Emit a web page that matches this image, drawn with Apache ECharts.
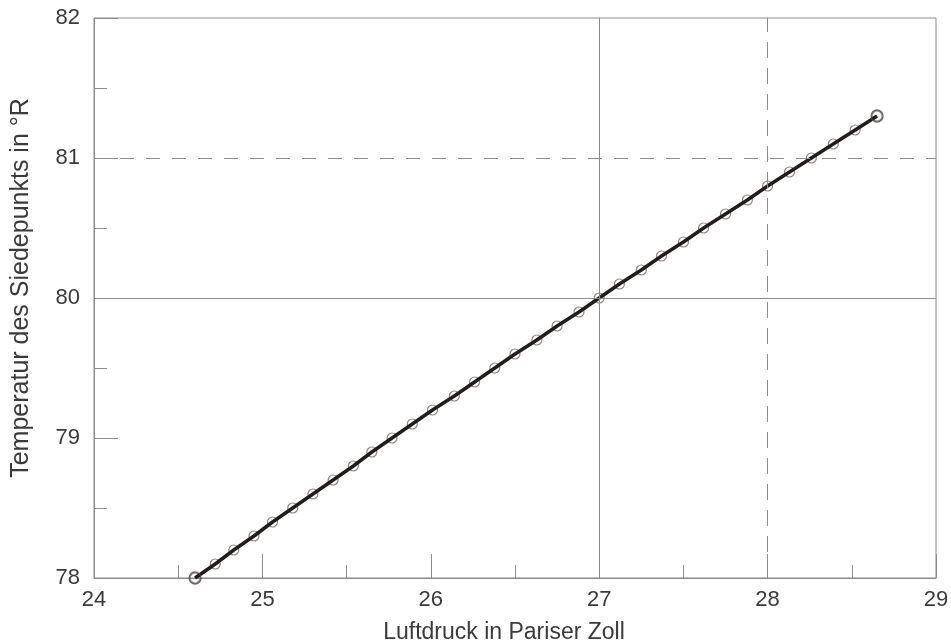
<!DOCTYPE html>
<html>
<head>
<meta charset="utf-8">
<title>Siedepunkt und Luftdruck</title>
<script src="https://cdn.jsdelivr.net/npm/echarts@6/dist/echarts.min.js"></script>
<style>
  html, body { margin: 0; padding: 0; background: #ffffff; }
  #chart { width: 951px; height: 642px; }
</style>
</head>
<body>
<div id="chart"></div>
<script>
// Boiling point (°R) against air pressure (Pariser Zoll)
const temperature = [
  78.0, 78.1, 78.2, 78.3, 78.4, 78.5, 78.6, 78.7, 78.8, 78.9,
  79.0, 79.1, 79.2, 79.3, 79.4, 79.5, 79.6, 79.7, 79.8, 79.9,
  80.0, 80.1, 80.2, 80.3, 80.4, 80.5, 80.6, 80.7, 80.8, 80.9,
  81.0, 81.1, 81.2, 81.3
];
const pressure = [
  24.60, 24.72, 24.83, 24.95, 25.06, 25.18, 25.30, 25.42, 25.54, 25.65,
  25.77, 25.89, 26.01, 26.14, 26.26, 26.38, 26.50, 26.63, 26.75, 26.88,
  27.00, 27.12, 27.25, 27.37, 27.50, 27.62, 27.75, 27.88, 28.00, 28.13,
  28.26, 28.39, 28.52, 28.65
];
// Reference lines: solid at 27 Zoll / 80 °R, dashed at 28 Zoll / 81 °R
const solidX = 27, solidY = 80;
const dashedX = 28, dashedY = 81;
const xTitle = 'Luftdruck in Pariser Zoll';
const yTitle = 'Temperatur des Siedepunkts in °R';

const points = pressure.map((p, i) => [p, temperature[i]]);

const frameColor = '#8c8c8c';
const textColor = '#3a3a3a';
const font = 'Liberation Sans, Arial, Helvetica, sans-serif';

const chart = echarts.init(document.getElementById('chart'), null, { renderer: 'canvas' });
chart.setOption({
  animation: false,
  backgroundColor: '#ffffff',
  grid: {
    left: 94, right: 15, top: 18, bottom: 64,
    outerBoundsMode: 'none',
    containLabel: false,
    show: true, borderColor: frameColor, borderWidth: 1
  },
  xAxis: {
    type: 'value', min: 24, max: 29, interval: 1,
    name: xTitle, nameLocation: 'middle', nameGap: 43,
    nameTextStyle: { fontFamily: font, fontSize: 23, color: textColor, padding: [0, 22, 0, 0] },
    axisLine: { show: true, lineStyle: { color: frameColor, width: 1 } },
    axisTick: { show: true, inside: true, length: 24, lineStyle: { color: frameColor, width: 1 } },
    minorTick: { show: true, splitNumber: 2, length: 13, lineStyle: { color: frameColor, width: 1 } },
    splitLine: { show: false },
    axisLabel: { fontFamily: font, fontSize: 22, color: textColor, margin: 11 }
  },
  yAxis: {
    type: 'value', min: 78, max: 82, interval: 1,
    name: yTitle, nameLocation: 'middle', nameGap: 60, nameRotate: 90,
    nameTextStyle: { fontFamily: font, fontSize: 25, color: textColor, padding: [0, 0, 0, 20] },
    axisLine: { show: true, lineStyle: { color: frameColor, width: 1 } },
    axisTick: { show: true, inside: true, length: 24, lineStyle: { color: frameColor, width: 1 } },
    minorTick: { show: true, splitNumber: 2, length: 13, lineStyle: { color: frameColor, width: 1 } },
    splitLine: { show: false },
    axisLabel: { fontFamily: font, fontSize: 22, color: textColor, margin: 14 }
  },
  series: [
    {
      type: 'scatter',
      data: points,
      symbol: 'circle',
      symbolSize: 10,
      z: 2,
      itemStyle: { color: 'rgba(255,255,255,0)', borderColor: '#6e6a66', borderWidth: 1.2 },
      markLine: {
        silent: true,
        symbol: ['none', 'none'],
        label: { show: false },
        lineStyle: { color: frameColor, width: 1, type: 'solid' },
        data: [
          { yAxis: solidY },
          { xAxis: solidX },
          { yAxis: dashedY, lineStyle: { type: [14, 12], color: frameColor, width: 1 } },
          { xAxis: dashedX, lineStyle: { type: [16, 10], color: frameColor, width: 1 } }
        ]
      }
    },
    {
      type: 'line',
      data: points,
      showSymbol: false,
      z: 3,
      lineStyle: { color: '#221d1a', width: 3.5 }
    },
    {
      type: 'scatter',
      data: [points[0], points[points.length - 1]],
      symbol: 'circle',
      symbolSize: 12,
      z: 4,
      itemStyle: { color: 'rgba(255,255,255,0)', borderColor: '#4a4542', borderWidth: 1.3 }
    }
  ]
});
</script>
</body>
</html>
